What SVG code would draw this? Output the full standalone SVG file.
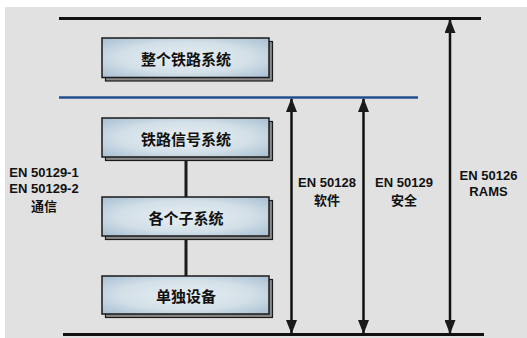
<svg xmlns="http://www.w3.org/2000/svg" width="527" height="338" viewBox="0 0 527 338">
<defs>
<radialGradient id="boxFill" cx="50%" cy="50%" r="65%">
<stop offset="0" stop-color="#e6eef2"/>
<stop offset="0.6" stop-color="#d3e0e8"/>
<stop offset="1" stop-color="#aec4d6"/>
</radialGradient>
<marker id="ah" viewBox="0 0 14 11" refX="13" refY="5.5" markerWidth="14" markerHeight="11" markerUnits="userSpaceOnUse" orient="auto-start-reverse">
<path d="M0,0 L14,5.5 L0,11 Z" fill="#1a1a1a"/>
</marker>
<style>
.shadow{fill:#8a8a8a;stroke:#1a1a1a;stroke-width:1.2}
.box{fill:url(#boxFill);stroke:#1a1a1a;stroke-width:1.5}
.bt{font-family:"Noto Sans CJK SC","Liberation Sans",sans-serif;font-size:15px;font-weight:bold;fill:#111;text-anchor:middle;dominant-baseline:central}
.lbl{font-family:"Liberation Sans","Noto Sans CJK SC",sans-serif;font-size:13px;font-weight:bold;fill:#111;text-anchor:middle}
.cjk{font-family:"Noto Sans CJK SC",sans-serif}
.arr{stroke:#111;stroke-width:2.5;fill:none}
</style>
</defs>
<rect x="5" y="7" width="522" height="331" fill="#e1e1e1"/>
<g id="levels">
<line x1="59" y1="18.5" x2="481" y2="18.5" stroke="#111" stroke-width="3"/>
<line x1="59" y1="97.5" x2="418" y2="97.5" stroke="#1f4f8f" stroke-width="2.5"/>
<line x1="63" y1="334.5" x2="484" y2="334.5" stroke="#111" stroke-width="3"/>
</g>
<g id="connectors">
<line x1="186" y1="157" x2="186" y2="197" stroke="#1a1a1a" stroke-width="3"/>
<line x1="186" y1="236" x2="186" y2="276" stroke="#1a1a1a" stroke-width="3"/>
<line class="arr" x1="291.5" y1="99" x2="291.5" y2="333" marker-start="url(#ah)" marker-end="url(#ah)"/>
<line class="arr" x1="363.5" y1="99" x2="363.5" y2="333" marker-start="url(#ah)" marker-end="url(#ah)"/>
<line class="arr" x1="450" y1="20" x2="450" y2="333" stroke-width="2" marker-start="url(#ah)" marker-end="url(#ah)"/>
</g>
<g id="whole-railway">
<rect class="shadow" x="105.5" y="41.5" width="167" height="39.5"/>
<rect class="box" x="102" y="38" width="167" height="39.5"/>
<text class="bt" x="186" y="58">整个铁路系统</text>
</g>
<g id="signal-system">
<rect class="shadow" x="105.5" y="121.5" width="167" height="39"/>
<rect class="box" x="102" y="118" width="167" height="39"/>
<text class="bt" x="186" y="138">铁路信号系统</text>
</g>
<g id="subsystems">
<rect class="shadow" x="105.5" y="200.5" width="167" height="39"/>
<rect class="box" x="102" y="197" width="167" height="39"/>
<text class="bt" x="186" y="217">各个子系统</text>
</g>
<g id="equipment">
<rect class="shadow" x="105.5" y="279.5" width="167" height="38"/>
<rect class="box" x="102" y="276" width="167" height="38"/>
<text class="bt" x="186" y="295.5">单独设备</text>
</g>
<g id="label-50129-comm">
<text class="lbl" x="44" y="177">EN 50129-1</text>
<text class="lbl" x="44" y="193">EN 50129-2</text>
<text class="lbl cjk" x="44" y="211">通信</text>
</g>
<g id="label-50128">
<text class="lbl" x="327" y="187">EN 50128</text>
<text class="lbl cjk" x="327" y="205">软件</text>
</g>
<g id="label-50129">
<text class="lbl" x="404" y="187">EN 50129</text>
<text class="lbl cjk" x="404" y="205">安全</text>
</g>
<g id="label-50126">
<text class="lbl" x="488.5" y="180">EN 50126</text>
<text class="lbl" x="488.5" y="196">RAMS</text>
</g>
</svg>
